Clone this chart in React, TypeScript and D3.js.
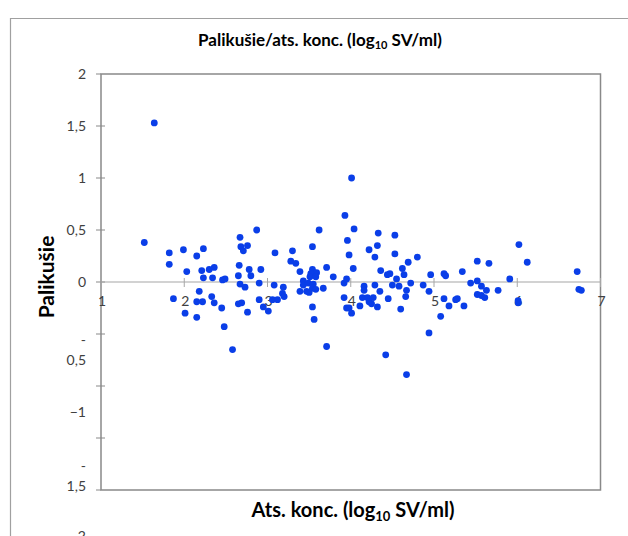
import React from "react";
import * as d3 from "d3";

// Data (x: log10 concentration, y: residual)
const logConc = [
  1.52, 1.64, 1.82, 1.99, 2.23, 2.15, 1.82, 2.03, 2.21, 2.3, 2.36, 2.23, 2.34, 2.46, 2.49,
  2.67, 2.68, 2.76, 2.71, 2.66, 2.78, 2.8, 2.65, 2.18, 1.87, 2.15, 2.22, 2.33, 2.36, 2.45,
  2.01, 2.15, 2.48, 2.58, 2.67, 2.73, 2.65, 2.69, 2.76, 2.87, 3.62, 3.09, 3.3, 3.54, 3.96,
  3.98, 3.28, 3.34, 2.92, 3.39, 3.71, 3.54, 3.59, 3.52, 3.51, 3.58, 3.79, 3.43, 2.9, 3.08,
  3.19, 3.43, 3.49, 3.55, 3.54, 3.58, 3.67, 3.39, 3.47, 3.5, 3.92, 3.95, 3.18, 3.2, 2.9,
  3.06, 3.12, 2.95, 3.01, 3.54, 3.56, 3.71, 3.92, 3.95, 4.01, 3.93, 4.04, 4.03, 4.33, 4.53,
  4.22, 4.32, 4.29, 4.53, 4.8, 4.69, 4.36, 4.62, 4.44, 4.47, 4.64, 4.55, 4.72, 4.87, 4.96,
  5.12, 5.14, 4.16, 4.16, 4.29, 4.5, 4.58, 4.35, 4.67, 4.94, 4.14, 4.2, 4.27, 4.45, 4.66,
  5.12, 3.98, 4.01, 4.11, 4.22, 4.25, 4.32, 4.6, 5.18, 5.08, 4.94, 4.42, 4.67, 6.02, 6.12,
  5.52, 5.66, 5.34, 5.91, 6.72, 5.52, 5.44, 5.57, 5.63, 5.77, 5.52, 5.57, 5.61, 6.74, 6.77,
  5.26, 5.28, 5.36, 6.01, 6.01,
];
const residual = [
  0.38, 1.53, 0.28, 0.31, 0.32, 0.25, 0.17, 0.1, 0.11, 0.12, 0.14, 0.04, 0.04, 0.02, 0.03,
  0.43, 0.34, 0.35, 0.3, 0.16, 0.12, 0.06, 0.06, -0.09, -0.16, -0.19, -0.19, -0.14, -0.2, -0.25,
  -0.3, -0.34, -0.43, -0.65, -0.02, -0.05, -0.21, -0.2, -0.29, 0.5, 0.5, 0.28, 0.3, 0.34, 0.4,
  0.26, 0.2, 0.18, 0.12, 0.1, 0.14, 0.12, 0.09, 0.08, 0.05, 0.05, 0.05, 0.01, -0.01, -0.03,
  -0.05, -0.03, -0.01, -0.02, -0.06, -0.07, -0.06, -0.09, -0.09, -0.1, -0.01, 0.03, -0.11, -0.14, -0.17,
  -0.17, -0.17, -0.24, -0.28, -0.24, -0.36, -0.62, -0.15, -0.25, 1.0, 0.64, 0.51, 0.13, 0.47, 0.45,
  0.31, 0.35, 0.24, 0.27, 0.24, 0.19, 0.11, 0.13, 0.07, 0.08, 0.07, 0.03, -0.01, -0.03, 0.07,
  0.08, 0.06, -0.04, -0.08, -0.03, -0.03, -0.04, -0.09, -0.08, -0.09, -0.15, -0.15, -0.15, -0.16, -0.14,
  -0.16, -0.25, -0.3, -0.23, -0.19, -0.21, -0.24, -0.26, -0.23, -0.33, -0.49, -0.7, -0.89, 0.36, 0.19,
  0.2, 0.18, 0.1, 0.03, 0.1, 0.01, -0.01, -0.04, -0.08, -0.08, -0.12, -0.13, -0.15, -0.07, -0.08,
  -0.17, -0.16, -0.23, -0.2, -0.18,
];
const xTicks = [1, 2, 3, 4, 5, 6, 7];
const yTicks = [2, 1.5, 1, 0.5, 0, -0.5, -1, -1.5, -2];

const titleMain = "Palikušie/ats. konc. (log";
const titleSub = "10";
const titleEnd = " SV/ml)";
const yTitle = "Palikušie";
const xTitleMain = "Ats. konc. (log";
const xTitleEnd = " SV/ml)";

// Layout: downward shift of (wrapped) negative y labels, as in the reference
const yLabelShift = (v: number) => (v >= 0 ? 0 : v === -0.5 ? 16 : v === -1 ? 26 : v === -1.5 ? 38 : 46);

const W = 628;
const H = 536;
const FONT = "Lato, 'Open Sans', sans-serif";

const locale = d3.formatLocale({ decimal: ",", thousands: " ", grouping: [3], currency: ["", ""] });
const fmt = locale.format("~g");

export default function App() {
  const x = d3.scaleLinear().domain([1, 7]).range([101, 600.5]);
  const y = d3.scaleLinear().domain([-2, 2]).range([490, 74]);
  const pts = d3.zip(logConc, residual);

  return (
    <svg
      width={W}
      height={H}
      style={{ position: "absolute", left: 0, top: 0, background: "#fff" }}
      fontFamily={FONT}
    >
      <rect x={0} y={0} width={W} height={H} fill="#fff" />
      {/* outer chart frame */}
      <path d={`M10.5,${H} V18.5 H${W}`} fill="none" stroke="#a0a0a0" strokeWidth={1.2} />

      {/* title */}
      <text x={320} y={46} textAnchor="middle" fontWeight="bold" fontSize={17} fill="#000">
        {titleMain}
        <tspan fontSize={11} dy={3}>{titleSub}</tspan>
        <tspan dy={-3}>{titleEnd}</tspan>
      </text>

      {/* plot frame */}
      <rect
        x={x(1)}
        y={y(2)}
        width={x(7) - x(1)}
        height={y(-2) - y(2)}
        fill="none"
        stroke="#898989"
        strokeWidth={1.5}
      />

      {/* y ticks */}
      {yTicks.map((v) => (
        <line key={"yt" + v} x1={x(1) - 5} x2={x(1) + (v === 2 || v === -2 ? 0 : 4)} y1={y(v)} y2={y(v)} stroke="#898989" strokeWidth={1} />
      ))}
      {/* y tick labels */}
      {yTicks.map((v) => {
        const s = fmt(v);
        const wrapped = v < 0 && !Number.isInteger(v);
        const cy = y(v) + yLabelShift(v);
        if (wrapped) {
          return (
            <text key={"yl" + v} x={86} textAnchor="end" fontSize={14} fill="#404040">
              <tspan x={86} y={cy - 10 + 5}>-</tspan>
              <tspan x={86} y={cy + 10 + 5}>{s.slice(1)}</tspan>
            </text>
          );
        }
        return (
          <text key={"yl" + v} x={86} y={cy + 5} textAnchor="end" fontSize={14} fill="#404040">
            {s}
          </text>
        );
      })}

      {/* zero line (x axis) */}
      <line x1={x(1)} x2={x(7)} y1={y(0)} y2={y(0)} stroke="#a6a6a6" strokeWidth={1.2} />
      {xTicks.map((v) => (
        <line key={"xt" + v} x1={x(v)} x2={x(v)} y1={y(0) - 4} y2={y(0) + 5} stroke="#a6a6a6" strokeWidth={1} />
      ))}
      {xTicks.map((v) => (
        <text key={"xl" + v} x={x(v) + 1} y={y(0) + 24} textAnchor="middle" fontSize={14} fill="#404040">
          {fmt(v)}
        </text>
      ))}

      {/* points */}
      {pts.map(([a, b], i) => (
        <circle key={i} cx={x(a)} cy={y(b)} r={3.4} fill="#0a3ee8" />
      ))}

      {/* axis titles */}
      <text
        transform={`translate(54, ${y(0) - 5}) rotate(-90)`}
        textAnchor="middle"
        fontWeight="bold"
        fontSize={21}
        fill="#000"
      >
        {yTitle}
      </text>
      <text x={353} y={517} textAnchor="middle" fontWeight="bold" fontSize={20} fill="#000">
        {xTitleMain}
        <tspan fontSize={13} dy={4}>{titleSub}</tspan>
        <tspan dy={-4}>{xTitleEnd}</tspan>
      </text>
    </svg>
  );
}
